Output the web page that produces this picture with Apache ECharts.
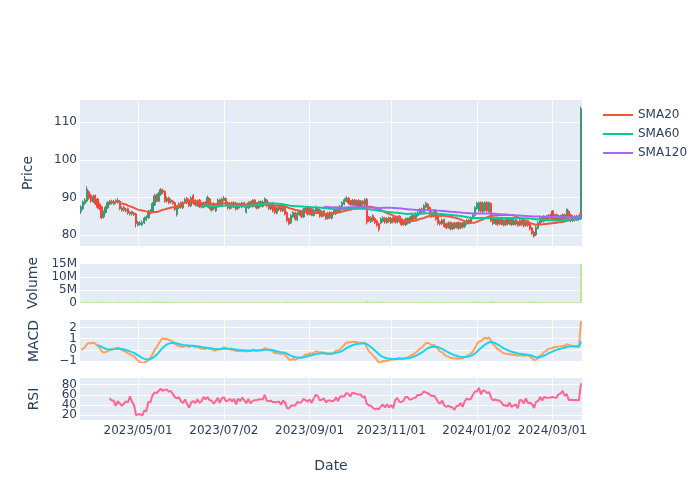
<!DOCTYPE html>
<html><head><meta charset="utf-8">
<script src="https://cdn.jsdelivr.net/npm/echarts@6/dist/echarts.min.js"></script>
<style>html,body{margin:0;padding:0;background:#fff}#c{width:700px;height:500px}</style>
</head><body><div id="c"></div>
<script>
const opens = [
86.2,87.0,88.4,89.0,91.5,90.6,88.8,90.5,89.6,88.2,
87.5,84.8,86.0,87.2,88.2,89.0,88.2,89.2,88.6,89.0,
86.6,87.4,86.4,87.0,85.6,86.2,85.4,85.6,82.6,82.8,
82.7,83.2,84.0,84.6,85.8,86.2,88.0,90.6,89.0,90.8,
91.8,91.6,89.0,89.9,88.8,89.0,88.6,85.4,87.2,88.6,
87.2,88.6,89.8,89.4,87.7,90.5,89.2,87.8,89.3,88.3,
87.4,88.7,87.6,89.6,86.6,88.4,86.4,87.6,89.4,87.8,
89.2,89.7,88.6,87.0,88.6,87.4,88.5,87.0,88.3,87.4,
88.6,86.0,87.2,88.8,87.6,89.3,88.4,87.2,88.9,87.6,
88.5,89.3,88.5,86.9,88.4,87.4,85.8,87.6,87.3,86.4,
87.4,86.0,84.4,83.2,84.8,85.9,84.0,85.4,86.0,84.8,
86.4,87.3,85.5,87.0,85.2,86.3,87.2,86.6,84.9,86.4,
85.6,84.4,86.0,84.4,85.6,85.6,87.4,86.0,87.3,88.2,
89.0,89.8,89.0,88.0,89.3,87.8,89.2,87.7,89.0,88.0,
89.5,84.8,83.5,85.2,84.4,83.8,83.0,83.2,83.6,84.5,
83.3,84.6,83.2,84.6,84.9,83.4,85.0,84.2,83.4,82.7,
84.4,83.2,84.0,85.2,84.2,85.2,85.6,87.0,86.0,87.4,
88.2,87.3,86.0,85.0,86.6,84.8,83.6,83.0,84.1,83.0,
82.0,83.3,81.6,83.2,82.0,83.3,81.9,83.2,82.2,83.0,
84.0,83.2,84.4,85.2,87.0,86.4,88.7,86.2,86.5,88.7,
86.2,88.4,84.4,83.0,84.4,82.9,84.4,83.8,82.7,84.3,
83.0,84.2,82.8,84.0,83.6,82.6,84.0,83.6,82.5,83.8,
82.9,81.9,80.8,80.0,81.8,83.0,84.7,83.6,85.0,84.0,
85.3,86.4,84.2,85.4,84.0,85.1,84.2,85.4,84.3,86.3,
85.4,83.8,85.0,84.0,85.0,84.3];
const closes = [
87.5,88.8,89.3,92.2,89.8,89.0,90.3,88.3,87.4,87.0,
84.6,86.2,87.4,88.6,88.8,88.5,88.9,88.7,89.2,87.0,
87.2,86.6,86.8,85.8,86.0,85.6,85.8,83.0,83.4,83.2,
83.3,84.5,84.8,86.3,86.4,88.4,90.4,89.2,91.0,92.1,
91.4,89.0,89.8,88.6,89.2,88.4,86.8,87.4,88.3,87.4,
88.6,89.5,88.6,87.8,89.9,88.4,88.0,89.0,87.6,87.5,
88.5,87.8,90.0,87.2,88.3,87.0,87.8,89.3,88.0,89.6,
89.8,88.0,87.2,88.4,87.4,88.6,86.9,88.2,87.5,88.5,
87.6,87.4,88.6,87.7,89.1,87.9,87.2,88.7,87.9,88.8,
89.6,87.8,87.0,88.1,86.4,86.0,87.3,86.8,86.5,87.6,
85.6,83.8,83.0,85.2,86.0,84.2,85.8,86.2,84.9,86.8,
87.2,85.6,86.9,85.4,86.6,87.4,86.0,85.0,86.2,85.2,
84.3,85.8,84.6,85.9,86.8,87.2,86.2,87.6,88.6,89.4,
89.9,88.5,88.1,89.2,88.0,89.0,87.6,88.9,88.2,89.4,
83.4,83.8,84.6,83.9,83.3,82.6,81.5,84.3,84.6,83.4,
84.4,83.6,84.5,83.5,83.4,84.8,83.6,82.8,82.9,84.2,
83.2,84.5,85.0,84.3,85.6,86.0,86.8,86.2,87.8,88.4,
86.9,85.4,85.0,86.5,84.2,83.1,82.9,84.0,82.3,81.9,
83.2,81.6,82.9,82.0,83.1,81.8,83.0,82.1,83.3,83.9,
83.2,84.6,85.2,87.3,88.5,88.6,86.3,88.5,88.7,86.4,
88.6,83.8,83.0,84.3,82.8,84.2,83.0,82.7,84.0,83.0,
84.1,82.8,83.9,82.9,82.6,83.8,82.8,82.4,83.7,82.6,
81.6,80.4,79.7,82.0,83.3,84.6,83.6,84.9,84.0,85.2,
84.4,84.2,85.2,84.0,85.0,84.2,85.3,84.3,86.9,84.6,
83.8,84.9,84.0,85.0,84.2,113.6];
const lows = [
85.6,86.7,88.0,88.7,89.4,88.6,88.5,88.0,87.0,86.6,
84.2,84.4,85.7,86.9,87.9,88.1,87.9,88.3,88.3,86.6,
86.2,86.2,86.0,85.4,85.2,85.1,85.0,82.0,82.3,82.5,
82.4,82.9,83.7,84.3,85.5,85.9,87.7,88.8,88.7,90.4,
90.9,88.6,88.6,88.2,88.4,88.0,86.4,84.9,86.9,87.0,
86.9,88.3,88.2,87.4,87.4,88.0,87.6,87.5,87.2,87.1,
87.1,87.4,87.3,86.8,86.2,86.6,86.1,87.3,87.6,87.5,
88.9,87.6,86.8,86.7,87.0,87.1,86.5,86.7,87.1,87.1,
87.2,85.7,86.9,87.3,87.3,87.5,86.8,86.9,87.5,87.3,
88.2,87.4,86.6,86.6,86.0,85.6,85.5,86.4,86.1,86.1,
85.2,83.4,82.6,82.9,84.5,83.8,83.7,85.1,84.5,84.5,
86.1,85.2,85.2,85.0,84.9,86.0,85.6,84.6,84.6,84.8,
84.0,84.1,84.2,84.1,85.3,85.3,85.8,85.7,87.0,87.9,
88.7,88.1,87.7,87.7,87.6,87.5,87.2,87.4,87.8,87.7,
82.8,83.4,83.2,83.5,82.9,82.2,80.9,82.9,83.3,83.0,
83.0,83.2,82.9,83.1,83.0,83.1,83.2,82.4,82.5,82.4,
82.8,82.9,83.7,83.9,83.9,84.9,85.3,85.8,85.7,87.1,
86.5,85.0,84.6,84.7,83.8,82.7,82.5,82.7,81.9,81.5,
81.7,81.2,81.3,81.6,81.7,81.4,81.6,81.7,81.9,82.7,
82.8,82.9,84.1,84.9,86.7,86.1,86.0,85.9,86.2,86.0,
85.9,83.4,82.6,82.7,82.4,82.6,82.6,82.3,82.4,82.6,
82.7,82.4,82.5,82.5,82.2,82.3,82.4,82.0,82.2,82.2,
81.2,80.0,79.3,79.7,81.5,82.7,83.2,83.3,83.6,83.7,
84.0,83.8,83.9,83.6,83.7,83.8,83.9,83.9,84.0,84.2,
83.4,83.5,83.6,83.7,83.8,84.0];
const highs = [
87.9,89.2,89.8,93.0,91.9,91.0,90.7,90.8,89.9,88.6,
87.8,86.5,87.8,89.0,89.3,89.4,89.3,89.5,89.9,89.3,
87.6,87.8,87.2,87.3,86.4,86.5,86.2,85.9,83.8,83.7,
83.9,84.9,85.2,86.7,86.9,88.8,90.9,91.0,91.5,92.5,
92.3,91.9,90.3,90.2,89.7,89.4,88.9,87.8,88.7,88.9,
89.0,89.9,90.1,89.7,90.3,90.9,89.5,89.4,89.6,88.6,
88.9,89.0,90.5,89.9,88.6,88.7,88.2,89.7,89.7,90.0,
90.4,90.0,88.9,88.8,88.9,89.0,88.8,88.6,88.6,88.9,
88.9,87.8,89.0,89.1,89.5,89.6,88.7,89.1,89.2,89.2,
90.0,89.6,88.8,88.5,88.7,87.7,87.7,87.9,87.6,88.0,
87.7,86.3,84.7,85.6,86.4,86.2,86.2,86.6,86.3,87.2,
87.6,87.6,87.3,87.3,87.0,87.8,87.5,86.9,86.6,86.7,
85.9,86.2,86.3,86.3,87.2,87.6,87.7,88.0,89.0,89.8,
90.4,90.1,89.3,89.6,89.6,89.4,89.5,89.3,89.3,89.8,
89.8,85.1,85.0,85.5,84.7,84.1,83.3,84.7,85.0,84.8,
84.8,84.9,84.9,84.9,85.2,85.2,85.3,84.5,83.7,84.6,
84.7,84.9,85.4,85.5,86.0,86.4,87.2,87.3,88.2,88.9,
88.5,87.6,86.3,86.9,86.9,85.1,83.9,84.4,84.4,83.3,
83.6,83.6,83.3,83.5,83.5,83.6,83.4,83.5,83.7,84.3,
84.3,85.0,85.6,87.7,88.9,88.9,88.9,88.9,88.9,88.9,
88.9,88.7,84.7,84.7,84.7,84.6,84.7,84.1,84.4,84.6,
84.5,84.5,84.3,84.3,83.9,84.2,84.3,83.9,84.1,84.1,
83.2,82.2,81.1,82.4,83.7,85.0,85.0,85.3,85.3,85.6,
85.6,86.6,85.6,85.7,85.4,85.4,85.7,85.7,87.0,86.6,
85.7,85.3,85.3,85.4,85.3,114.2];
const volumesK = [
310,420,380,560,470,350,290,330,410,360,
520,440,300,380,460,350,270,320,390,480,
340,280,310,360,290,330,420,610,450,380,
300,370,340,410,360,520,640,480,430,560,
500,470,380,340,310,360,420,390,330,290,
310,350,300,340,420,380,310,280,330,300,
270,290,410,350,300,320,280,340,310,360,
330,300,280,260,300,290,320,270,250,280,
300,330,290,260,310,280,270,300,260,290,
340,310,290,270,330,350,300,280,270,310,
420,560,490,400,360,330,310,290,340,320,
300,330,280,310,290,320,300,340,280,300,
350,300,320,290,310,330,300,340,380,410,
390,350,310,300,280,320,300,290,310,330,
780,520,430,380,400,420,530,440,360,330,
310,300,290,320,300,280,310,350,320,300,
290,310,330,300,340,360,380,330,400,430,
390,420,360,330,410,450,380,340,420,440,
350,430,340,320,300,350,310,300,290,320,
300,340,380,620,580,450,420,390,370,400,
380,690,470,360,380,340,330,350,320,310,
300,330,290,300,320,290,310,330,300,340,
410,480,530,460,400,370,330,310,300,320,
290,360,310,300,280,290,300,280,420,350,
330,300,290,280,300,15000];
const tickIndex = [28,70,112,152,194,231];
const tickLabels = ['2023/05/01','2023/07/02','2023/09/01','2023/11/01','2024/01/02','2024/03/01'];
const priceTicks = [80,90,100,110];
const volumeTicks = [0,5000000,10000000,15000000];
const macdTicks = [-1,0,1,2];
const rsiTicks = [20,40,60,80];

const FONT = 'DejaVu Sans';
const TXT = '#2a3f5f';

// trading-day categories
const dates = [];
(function(){
  const d = new Date(Date.UTC(2023,2,22));
  while (dates.length < closes.length) {
    const wd = d.getUTCDay();
    if (wd !== 0 && wd !== 6) {
      dates.push(d.getUTCFullYear()+'/'+String(d.getUTCMonth()+1).padStart(2,'0')+'/'+String(d.getUTCDate()).padStart(2,'0'));
    }
    d.setUTCDate(d.getUTCDate()+1);
  }
})();

// indicators derived from the closes
function sma(arr, n){
  return arr.map((v,i)=>{ if(i<n-1) return '-'; let s=0; for(let k=i-n+1;k<=i;k++) s+=arr[k]; return s/n; });
}
function ema(arr, span){
  const a = 2/(span+1); const out=[];
  arr.forEach((v,i)=>out.push(i===0 ? v : a*v+(1-a)*out[i-1]));
  return out;
}
const e12 = ema(closes,12), e26 = ema(closes,26);
const macd = e12.map((v,i)=>v-e26[i]);
const signal = ema(macd,9).map((v,i)=> i<8 ? '-' : v);
const rsi = closes.map((c,i)=>{
  if (i<14) return '-';
  let g=0,l=0;
  for (let k=i-13;k<=i;k++){ const d=closes[k]-closes[k-1]; if(d>0) g+=d; else l-=d; }
  return l===0 ? 100 : 100-100/(1+g/l);
});

const isTick = (i)=> tickIndex.indexOf(i) >= 0;
function xAxisFor(k){
  return {
    type:'category', gridIndex:k, data:dates, boundaryGap:true,
    axisLine:{show:false}, axisTick:{show:false},
    axisLabel: k===3 ? {show:true, interval:(i)=>isTick(i), formatter:(v,i)=>tickLabels[tickIndex.indexOf(i)],
      color:TXT, fontSize:12, margin:5, fontFamily:FONT, hideOverlap:false} : {show:false},
    splitLine:{show:k!==1, interval:(i)=>isTick(i), alignWithLabel:true, lineStyle:{color:'#ffffff', width:1}},
    name: k===3 ? 'Date' : '', nameLocation:'middle', nameGap:39,
    nameTextStyle:{color:TXT, fontSize:14, fontFamily:FONT}
  };
}
function yAxisFor(k, name, min, max, ticks, fmt, gap, useAxisLabels){
  return {
    type:'value', gridIndex:k, min:min, max:max, name:name, nameLocation:'middle', nameRotate:90, nameGap:gap,
    nameTextStyle:{color:TXT, fontSize:14, fontFamily:FONT},
    axisLine:{show:false}, axisTick:{show:false, customValues:ticks},
    axisLabel:{show:useAxisLabels, customValues:ticks, formatter:fmt, color:TXT, fontSize:12, margin:3,
      fontFamily:FONT, hideOverlap:false},
    splitLine:{show:useAxisLabels, lineStyle:{color:'#ffffff', width:1}}
  };
}
const minusFmt = (v)=> v<0 ? '\u2212'+Math.abs(v) : String(v);
const volFmt = (v)=> v===0 ? '0' : (v/1e6)+'M';

// horizontal gridlines + tick labels for the two small panels (drawn beneath the data)
function gridLines(k, ticks, fmt){
  return {type:'line', xAxisIndex:k, yAxisIndex:k, data:[], z:1, silent:true, tooltip:{show:false},
    markLine:{z:1, silent:true, symbol:'none', animation:false,
      lineStyle:{color:'#ffffff', width:1, type:'solid'},
      emphasis:{disabled:true},
      label:{show:true, position:'start', distance:3, formatter:(p)=>fmt(p.value),
        color:TXT, fontSize:12, fontFamily:FONT},
      data: ticks.map(v=>({yAxis:v}))}};
}

const gridBase = {left:80, width:502, show:true, backgroundColor:'#E5ECF6', borderWidth:0};
const option = {
  animation:false,
  textStyle:{fontFamily:FONT},
  grid:[
    Object.assign({top:100, height:146}, gridBase),
    Object.assign({top:263, height:40}, gridBase),
    Object.assign({top:320, height:42}, gridBase),
    Object.assign({top:378, height:42}, gridBase)
  ],
  legend:{
    data:['SMA20','SMA60','SMA120'], orient:'vertical', left:598, top:104,
    itemWidth:30, itemHeight:2, itemGap:7, icon:'rect',
    textStyle:{color:TXT, fontSize:12, fontFamily:FONT}
  },
  xAxis:[xAxisFor(0), xAxisFor(1), xAxisFor(2), xAxisFor(3)],
  yAxis:[
    yAxisFor(0,'Price',77.07,115.93,priceTicks,(v)=>String(v),45,true),
    yAxisFor(1,'Volume',0,15270000,volumeTicks,volFmt,39,true),
    yAxisFor(2,'MACD',-1.09,2.66,macdTicks,minusFmt,39,false),
    yAxisFor(3,'RSI',10.8,93.1,rsiTicks,(v)=>String(v),39,false)
  ],
  series:[
    {type:'candlestick', xAxisIndex:0, yAxisIndex:0, barWidth:'90%',
     data: closes.map((c,i)=>[opens[i], c, lows[i], highs[i]]),
     itemStyle:{color:'#3D9970', color0:'#FF4136', borderColor:'#3D9970', borderColor0:'#FF4136', borderWidth:1}},
    {name:'SMA20', type:'line', xAxisIndex:0, yAxisIndex:0, data:sma(closes,20), showSymbol:false,
     lineStyle:{width:2, color:'#EF553B'}, itemStyle:{color:'#EF553B'}},
    {name:'SMA60', type:'line', xAxisIndex:0, yAxisIndex:0, data:sma(closes,60), showSymbol:false,
     lineStyle:{width:2, color:'#00CC96'}, itemStyle:{color:'#00CC96'}},
    {name:'SMA120', type:'line', xAxisIndex:0, yAxisIndex:0, data:sma(closes,120), showSymbol:false,
     lineStyle:{width:2, color:'#AB63FA'}, itemStyle:{color:'#AB63FA'}},
    {type:'bar', xAxisIndex:1, yAxisIndex:1, data:volumesK.map(v=>v*1000), barWidth:'80%',
     itemStyle:{color:'#B6E880'}},
    gridLines(2, macdTicks, minusFmt),
    {type:'line', xAxisIndex:2, yAxisIndex:2, data:macd, showSymbol:false, z:3,
     lineStyle:{width:2, color:'#FFA15A'}, itemStyle:{color:'#FFA15A'}},
    {type:'line', xAxisIndex:2, yAxisIndex:2, data:signal, showSymbol:false, z:3,
     lineStyle:{width:2, color:'#19D3F3'}, itemStyle:{color:'#19D3F3'}},
    gridLines(3, rsiTicks, (v)=>String(v)),
    {type:'line', xAxisIndex:3, yAxisIndex:3, data:rsi, showSymbol:false, z:3,
     lineStyle:{width:2, color:'#FF6692'}, itemStyle:{color:'#FF6692'}}
  ]
};
const chart = echarts.init(document.getElementById('c'), null, {renderer:'canvas'});
chart.setOption(option);
</script>
</body></html>
